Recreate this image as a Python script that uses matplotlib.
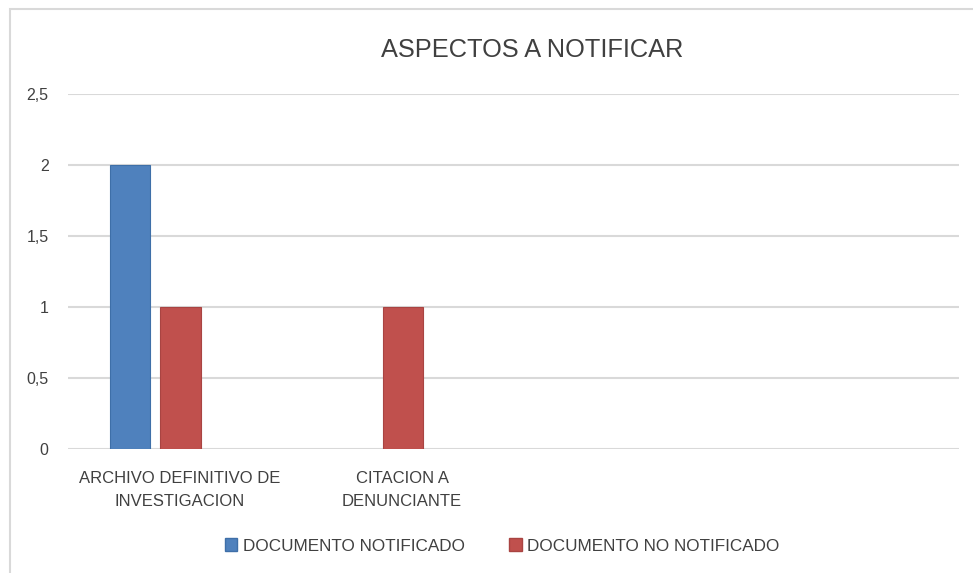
import matplotlib
matplotlib.use("Agg")
import matplotlib.pyplot as plt
from matplotlib.patches import Rectangle, Patch
import numpy as np

plt.rcParams['font.family'] = ['Liberation Sans', 'DejaVu Sans']

categories = ["ARCHIVO DEFINITIVO DE\nINVESTIGACION", "CITACION A\nDENUNCIANTE", "", ""]
series_names = ["DOCUMENTO NOTIFICADO", "DOCUMENTO NO NOTIFICADO"]
notificado = [2, 0, 0, 0]
no_notificado = [1, 1, 0, 0]
yticks = [0, 0.5, 1, 1.5, 2, 2.5]
ytick_labels = ["0", "0,5", "1", "1,5", "2", "2,5"]
title = "ASPECTOS A NOTIFICAR"

colors = ["#4F81BD", "#C0504D"]
edges = ["#3E6FA8", "#A94442"]

W, H = 973, 573
fig = plt.figure(figsize=(W / 100, H / 100), dpi=100)
fig.patch.set_facecolor("white")

# outer chart frame
fig.add_artist(Rectangle((10 / W, -0.05), 1.2, 1 - 9 / H + 0.05, transform=fig.transFigure,
                         fill=False, edgecolor="#D9D9D9", linewidth=1.5))

ax = fig.add_axes([68 / W, 1 - 449 / H, (959 - 68) / W, (449 - 94) / H])
x = np.arange(len(categories))
width = 0.18
step = 0.228
for i, (vals, c, e) in enumerate(zip([notificado, no_notificado], colors, edges)):
    v = np.array(vals, dtype=float)
    v[v == 0] = np.nan
    ax.bar(x + (i - 1) * step + 0.005, v, width=width, color=c, edgecolor=e, linewidth=0.8, zorder=3)

ax.set_xlim(-0.5, len(categories) - 0.5)
ax.set_ylim(0, 2.5)
ax.set_yticks(yticks)
ax.set_yticklabels(ytick_labels, fontsize=11.5, color="#404040")
ax.set_xticks(x)
ax.set_xticklabels(categories, fontsize=12, color="#404040", linespacing=1.65)
ax.tick_params(axis='y', length=0, pad=14)
ax.tick_params(axis='x', length=0, pad=16)
ax.grid(axis='y', color="#D9D9D9", linewidth=1.5, zorder=0)
ax.set_axisbelow(True)
for s in ax.spines.values():
    s.set_visible(False)

fig.text(532 / W, 1 - 50 / H, title, ha="center", va="center", fontsize=18.3, color="#404040")

handles = [Patch(facecolor=c, edgecolor=e, label=n) for c, e, n in zip(colors, edges, series_names)]
fig.legend(handles=handles, loc="center", bbox_to_anchor=(502 / W, 1 - 546 / H), ncol=2,
           frameon=False, fontsize=12.3, handlelength=0.75, handleheight=0.75, handletextpad=0.3,
           columnspacing=2.6, labelcolor="#404040")

fig.savefig("out.png", dpi=100)
